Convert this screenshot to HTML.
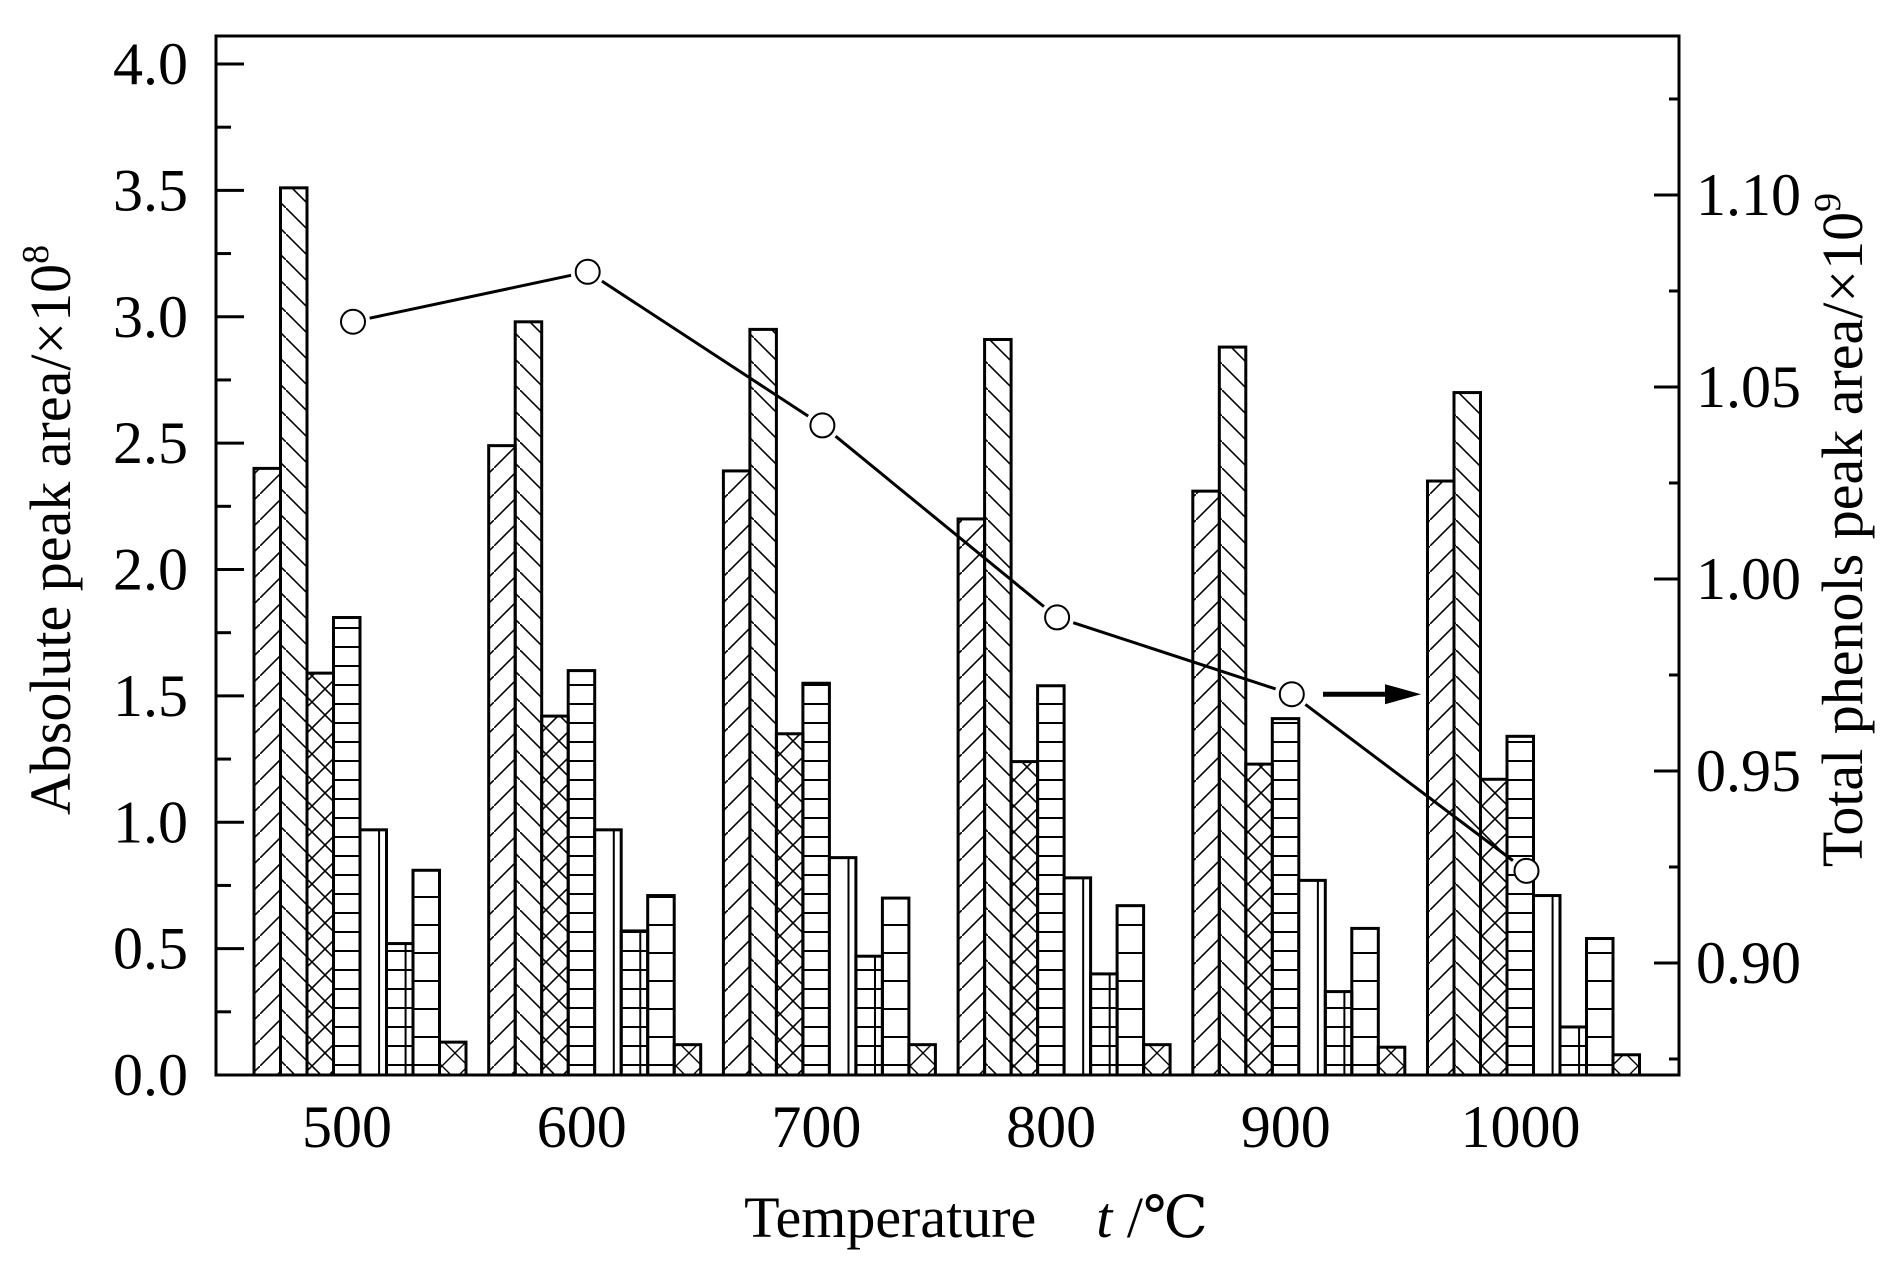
<!DOCTYPE html>
<html><head><meta charset="utf-8"><style>
html,body{margin:0;padding:0;background:#fff}
svg{display:block}
text{font-family:"Liberation Serif","DejaVu Serif",serif;fill:#000}
</style></head><body>
<svg id="chart" width="1890" height="1276" viewBox="0 0 1890 1276" xmlns="http://www.w3.org/2000/svg">
<defs>
<pattern id="p0" patternUnits="userSpaceOnUse" width="26" height="26"><path d="M-2,28 L28,-2" stroke="#000" stroke-width="1.6"/></pattern>
<pattern id="p1" patternUnits="userSpaceOnUse" width="26" height="26"><path d="M-2,-2 L28,28" stroke="#000" stroke-width="1.6"/></pattern>
<pattern id="p2" patternUnits="userSpaceOnUse" width="26" height="26"><path d="M-2,28 L28,-2 M-2,-2 L28,28" stroke="#000" stroke-width="1.6"/></pattern>
<pattern id="p3" patternUnits="userSpaceOnUse" width="26" height="19"><path d="M0,1 L26,1" stroke="#000" stroke-width="2"/></pattern>
<pattern id="p5" patternUnits="userSpaceOnUse" width="26" height="19"><path d="M0,1 L26,1" stroke="#000" stroke-width="2"/></pattern>
<pattern id="p6" patternUnits="userSpaceOnUse" width="26" height="28"><path d="M0,1 L26,1" stroke="#000" stroke-width="2"/></pattern>
<pattern id="p7" patternUnits="userSpaceOnUse" width="26" height="26"><path d="M-2,28 L28,-2 M-2,-2 L28,28" stroke="#000" stroke-width="1.4"/></pattern>
</defs>
<g id="bars"></g>
<g id="axes"></g>
<g id="line"></g>
<text transform="translate(70,530) rotate(-90)" text-anchor="middle" font-size="58">Absolute peak area/×10<tspan dy="-22" font-size="38">8</tspan></text>
<text transform="translate(1862,530) rotate(-90)" text-anchor="middle" font-size="58">Total phenols peak area/×10<tspan dy="-22" font-size="38">9</tspan></text>
<text x="976" y="1237" text-anchor="middle" font-size="58">Temperature<tspan dx="60" font-style="italic">t</tspan> /℃</text>
</svg>
<script>
const temps=[500,600,700,800,900,1000];
const s1=[2.40,2.49,2.39,2.20,2.31,2.35];
const s2=[3.51,2.98,2.95,2.91,2.88,2.70];
const s3=[1.59,1.42,1.35,1.24,1.23,1.17];
const s4=[1.81,1.60,1.55,1.54,1.41,1.34];
const s5=[0.97,0.97,0.86,0.78,0.77,0.71];
const s6=[0.52,0.57,0.47,0.40,0.33,0.19];
const s7=[0.81,0.71,0.70,0.67,0.58,0.54];
const s8=[0.13,0.12,0.12,0.12,0.11,0.08];
const totalPhenols=[1.067,1.080,1.040,0.990,0.970,0.924];
const leftTicks=["0.0","0.5","1.0","1.5","2.0","2.5","3.0","3.5","4.0"];
const rightTicks=["0.90","0.95","1.00","1.05","1.10"];
const NS="http://www.w3.org/2000/svg";
const X0=216,X1=1679,Y0=1075,YT=36;
function yL(v){return Y0-v*252.75;}
function yR(v){return 963-(v-0.90)*3840;}
function xT(t){return 357+(t-500)*2.347;}
const BW=26.5;
function mk(tag,attrs,parent){const e=document.createElementNS(NS,tag);for(const k in attrs)e.setAttribute(k,attrs[k]);parent.appendChild(e);return e;}
const series=[s1,s2,s3,s4,s5,s6,s7,s8];
const bars=document.getElementById('bars');
series.forEach((s,si)=>{
  s.forEach((v,ti)=>{
    const x=xT(temps[ti])-4*BW+3+si*BW, y=yL(v);
    const fill=(si===4)?'#fff':'url(#p'+si+')';
    const r=mk('rect',{x:x,y:y,width:BW,height:Y0-y,fill:fill,stroke:'#000','stroke-width':3},bars);
    
    
    if(si===4||si===5){
      const l=mk('line',{x1:x+BW*0.72,x2:x+BW*0.72,y1:y,y2:Y0,stroke:'#000','stroke-width':2},bars);
      
      
    }
  });
});
const ax=document.getElementById('axes');
mk('rect',{x:X0,y:YT,width:X1-X0,height:Y0-YT,fill:'none',stroke:'#000','stroke-width':3},ax);
for(let i=0;i<=16;i++){const v=i*0.25,y=yL(v);mk('line',{x1:X0,x2:X0+(i%2?15:28),y1:y,y2:y,stroke:'#000','stroke-width':3},ax);}
leftTicks.forEach(t=>{const e=mk('text',{x:188,y:yL(+t)+20,'text-anchor':'end','font-size':60},ax);e.textContent=t;

});
for(let i=-1;i<=9;i++){const v=0.90+i*0.025,y=yR(v);if(y<YT+5||y>Y0-5)continue;mk('line',{x1:X1,x2:X1-(i%2?10:25),y1:y,y2:y,stroke:'#000','stroke-width':3},ax);}
rightTicks.forEach(t=>{const e=mk('text',{x:1696,y:yR(+t)+20,'font-size':60},ax);e.textContent=t;

});
temps.forEach(t=>{const e=mk('text',{x:xT(t)-10,y:1147,'text-anchor':'middle','font-size':60},ax);e.textContent=t;

});
const lg=document.getElementById('line');
const pts=totalPhenols.map((v,i)=>[xT(temps[i])-4,yR(v)]);
for(let i=0;i<pts.length-1;i++){const [ax1,ay1]=pts[i],[bx,by]=pts[i+1];const dx=bx-ax1,dy=by-ay1,d=Math.hypot(dx,dy),g=17;
const l=mk('line',{x1:ax1+dx/d*g,y1:ay1+dy/d*g,x2:bx-dx/d*g,y2:by-dy/d*g,stroke:'#000','stroke-width':3},lg);

}
pts.forEach(p=>{const c=mk('circle',{cx:p[0],cy:p[1],r:12,fill:'#fff',stroke:'#000','stroke-width':2},lg);

});
const ay=yR(totalPhenols[4]);
const al=mk('line',{x1:1323,x2:1390,y1:ay,y2:ay,stroke:'#000','stroke-width':5},lg);


const ah=mk('polygon',{points:`1385,${ay-10} 1421,${ay} 1385,${ay+10}`,fill:'#000'},lg);


</script>
</body></html>
